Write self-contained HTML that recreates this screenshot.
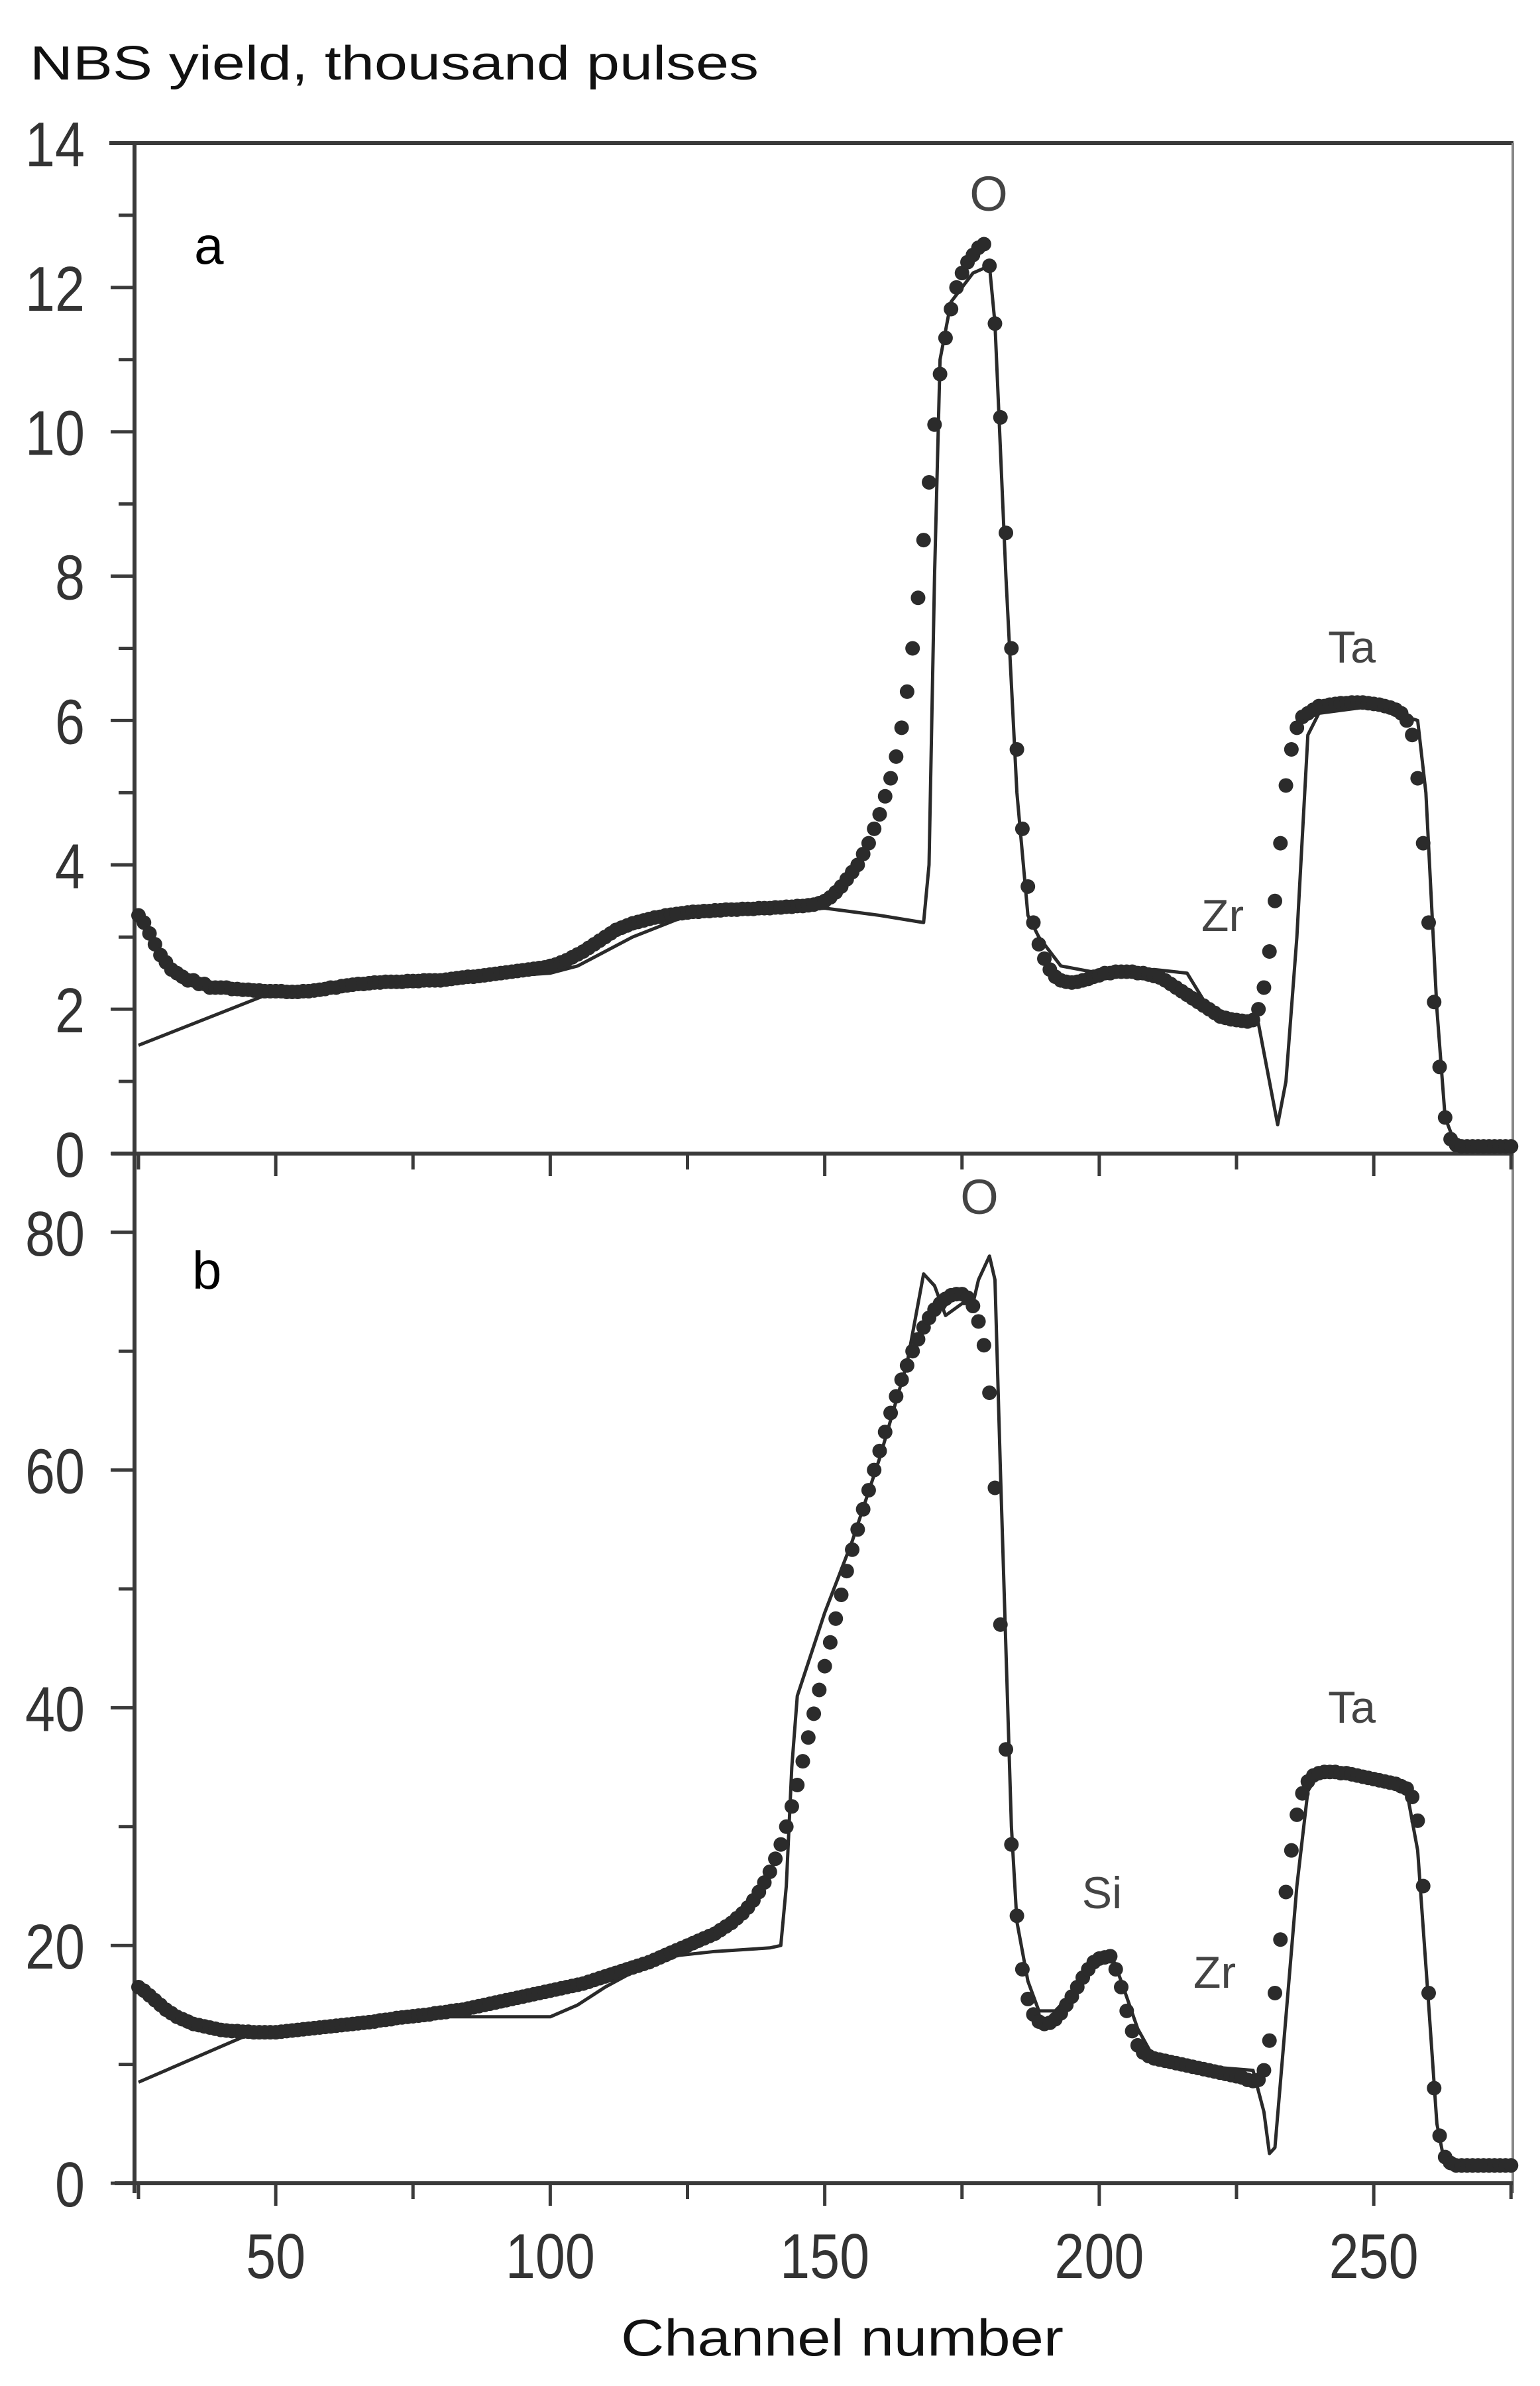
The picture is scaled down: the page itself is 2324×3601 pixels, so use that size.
<!DOCTYPE html>
<html><head><meta charset="utf-8"><style>
html,body{margin:0;padding:0;background:#fff;}
svg{display:block;}
text{font-family:"Liberation Sans",sans-serif;}
</style></head><body>
<svg id="chart" width="2324" height="3601" viewBox="0 0 2324 3601" xmlns="http://www.w3.org/2000/svg">
<text x="45" y="120" font-size="72" fill="#111" textLength="1100" lengthAdjust="spacingAndGlyphs">NBS yield, thousand pulses</text>
<text x="937" y="3555" font-size="78" fill="#111" textLength="668" lengthAdjust="spacingAndGlyphs">Channel number</text>
<g id="axes"></g>
<g id="marks"></g>
</svg>
<script>
// channels start at 25, step 1
const startChannel = 25;
const dotsA = [
3.3,3.2,3.05,2.9,2.75,2.65,2.55,2.5,2.45,2.4,
2.4,2.35,2.35,2.3,2.3,2.3,2.3,2.28,2.28,2.27,
2.27,2.26,2.26,2.25,2.25,2.25,2.25,2.24,2.24,2.24,
2.25,2.25,2.26,2.27,2.28,2.3,2.3,2.32,2.33,2.34,
2.35,2.35,2.36,2.37,2.37,2.38,2.38,2.38,2.38,2.39,
2.39,2.39,2.4,2.4,2.4,2.4,2.41,2.42,2.43,2.44,
2.45,2.45,2.46,2.47,2.48,2.49,2.5,2.51,2.52,2.53,
2.54,2.55,2.56,2.57,2.58,2.6,2.62,2.65,2.68,2.72,
2.76,2.8,2.85,2.9,2.95,3.0,3.05,3.1,3.13,3.16,
3.19,3.21,3.23,3.25,3.27,3.28,3.3,3.31,3.32,3.33,
3.34,3.35,3.35,3.36,3.36,3.37,3.37,3.38,3.38,3.38,
3.39,3.39,3.39,3.4,3.4,3.4,3.41,3.41,3.42,3.42,
3.43,3.43,3.44,3.45,3.47,3.5,3.55,3.62,3.7,3.8,
3.9,4.0,4.15,4.3,4.5,4.7,4.95,5.2,5.5,5.9,
6.4,7.0,7.7,8.5,9.3,10.1,10.8,11.3,11.7,12.0,
12.2,12.35,12.45,12.55,12.6,12.3,11.5,10.2,8.6,7.0,
5.6,4.5,3.7,3.2,2.9,2.7,2.55,2.45,2.4,2.38,
2.37,2.38,2.4,2.42,2.45,2.47,2.5,2.5,2.52,2.52,
2.52,2.52,2.5,2.5,2.48,2.46,2.44,2.4,2.35,2.3,
2.25,2.2,2.15,2.1,2.05,2.0,1.95,1.9,1.88,1.86,
1.85,1.84,1.83,1.85,2.0,2.3,2.8,3.5,4.3,5.1,
5.6,5.9,6.05,6.1,6.15,6.2,6.2,6.22,6.23,6.24,
6.24,6.25,6.25,6.25,6.24,6.23,6.22,6.2,6.18,6.15,
6.1,6.0,5.8,5.2,4.3,3.2,2.1,1.2,0.5,0.2,
0.12,0.1,0.1,0.1,0.1,0.1,0.1,0.1,0.1,0.1,0.1];
const lineAChannels = [25,50,60,80,100,105,115,125,140,150,160,168,169,170,171,173,177,180,181,183,185,187,189,193,200,210,216,220,226,229,231,232.5,234,236,238,240,250,258,259.5,261.5,263,265,275];
const lineAValues   = [1.5,2.25,2.3,2.4,2.5,2.6,3.0,3.3,3.35,3.4,3.3,3.2,4,8,11,11.8,12.2,12.3,11.5,8,5,3.3,3.0,2.6,2.5,2.55,2.5,2.0,1.9,1.8,1.0,0.4,1.0,3,5.8,6.1,6.2,6.0,5,2,0.5,0.1,0.1];
const dotsB = [
16.5,16.2,15.8,15.4,15.0,14.6,14.3,14.0,13.8,13.6,
13.4,13.3,13.2,13.1,13.0,12.9,12.85,12.8,12.8,12.75,
12.75,12.7,12.7,12.7,12.7,12.7,12.75,12.8,12.85,12.9,
12.95,13.0,13.05,13.1,13.15,13.2,13.25,13.3,13.35,13.4,
13.45,13.5,13.55,13.6,13.7,13.75,13.8,13.9,13.95,14.0,
14.05,14.1,14.15,14.2,14.3,14.35,14.4,14.5,14.55,14.6,
14.7,14.8,14.9,15.0,15.1,15.2,15.3,15.4,15.5,15.6,
15.7,15.8,15.9,16.0,16.1,16.2,16.3,16.4,16.5,16.6,
16.7,16.8,16.95,17.1,17.25,17.4,17.55,17.7,17.85,18.0,
18.15,18.3,18.45,18.6,18.8,19.0,19.2,19.4,19.6,19.8,
20.0,20.2,20.4,20.6,20.8,21.0,21.3,21.6,21.9,22.3,
22.7,23.2,23.8,24.5,25.3,26.2,27.3,28.5,30.0,31.7,
33.5,35.5,37.5,39.5,41.5,43.5,45.5,47.5,49.5,51.5,
53.3,55.0,56.7,58.3,60.0,61.6,63.2,64.8,66.2,67.6,
68.8,70.0,71.0,72.0,72.8,73.5,74.0,74.4,74.7,74.8,
74.8,74.5,73.8,72.5,70.5,66.5,58.5,47.0,36.5,28.5,
22.5,18.0,15.5,14.2,13.6,13.4,13.5,13.8,14.3,15.0,
15.7,16.5,17.3,18.0,18.6,18.9,19.0,19.1,18.0,16.5,
14.5,12.8,11.6,11.0,10.7,10.5,10.4,10.3,10.2,10.1,
10.0,9.9,9.8,9.7,9.6,9.5,9.4,9.3,9.2,9.1,
9.0,8.9,8.7,8.6,8.7,9.5,12.0,16.0,20.5,24.5,
28.0,31.0,32.8,33.8,34.3,34.5,34.6,34.6,34.6,34.5,
34.5,34.4,34.3,34.2,34.1,34.0,33.9,33.8,33.7,33.6,
33.4,33.2,32.5,30.5,25.0,16.0,8.0,4.0,2.2,1.7,
1.5,1.5,1.5,1.5,1.5,1.5,1.5,1.5,1.5,1.5,1.5];
const lineBChannels = [25,45,60,80,90,100,105,110,120,130,140,142,143,144,145,150,155,160,165,168,170,172,175,177,178,180,181,182,183,184,185,187,189,192,195,199,202,204,207,210,220,228,230,231,232,234,236,238,240,250,256,258,260,261.5,263,275];
const lineBValues   = [8.5,12.5,13.2,14,14,14,15,16.5,19,19.5,19.8,20,25,35,41,48,54,61,69,76.5,75.5,73,74,74,76,78,76,60,45,30,22,17,14.5,14.5,16,18.5,19.5,17,13,10.5,9.8,9.5,6,2.5,3,14,25,33,34.5,34,33,28,15,5,1.5,1.5];
const yTicksA = [0,2,4,6,8,10,12,14];
const yTicksB = [0,20,40,60,80];
const xTickLabels = [50,100,150,200,250];

const NS = "http://www.w3.org/2000/svg";
const axesG = document.getElementById('axes');
const marksG = document.getElementById('marks');
function X(ch){ return 209 + (ch - 25) * 8.285; }
function YA(v){ return 1741 - v * 108.93; }
function YB(v){ return 3295 - v * 17.94; }
function mk(tag, attrs, parent){
  const e = document.createElementNS(NS, tag);
  for (const k in attrs) e.setAttribute(k, attrs[k]);
  parent.appendChild(e);
  return e;
}
const AX = '#3a3a3a';
let el;
el = mk('line',{x1:203,y1:216,x2:203,y2:3310,stroke:AX,'stroke-width':6},axesG);


el = mk('line',{x1:165,y1:216,x2:2284,y2:216,stroke:AX,'stroke-width':6},axesG);


el = mk('line',{x1:2283,y1:216,x2:2283,y2:3310,stroke:'#888','stroke-width':4},axesG);


el = mk('line',{x1:168,y1:1741,x2:2283,y2:1741,stroke:AX,'stroke-width':6},axesG);


el = mk('line',{x1:173,y1:3295,x2:2283,y2:3295,stroke:AX,'stroke-width':6},axesG);


for (let ch = 25; ch <= 275; ch += 25) {
  const len = (ch % 50 === 0) ? 34 : 24;
  el = mk('line',{x1:X(ch),y1:1741,x2:X(ch),y2:1741+len,stroke:AX,'stroke-width':5},axesG);
  
  
  el = mk('line',{x1:X(ch),y1:3295,x2:X(ch),y2:3295+len,stroke:AX,'stroke-width':5},axesG);
  
  
}
xTickLabels.forEach(v => {
  const t = mk('text',{x:X(v),y:3438,'font-size':96,fill:'#333','text-anchor':'middle',textLength:String(v).length*45,lengthAdjust:'spacingAndGlyphs'},axesG);
  t.textContent = v;
  
  
});
for (let v = 0; v <= 14; v += 1) {
  const len = (v % 2 === 0) ? 36 : 24;
  el = mk('line',{x1:203-len,y1:YA(v),x2:203,y2:YA(v),stroke:AX,'stroke-width':5},axesG);
  
  
}
yTicksA.forEach(v => {
  const t = mk('text',{x:128,y:YA(v)+35,'font-size':96,fill:'#333','text-anchor':'end',textLength:String(v).length*45,lengthAdjust:'spacingAndGlyphs'},axesG);
  t.textContent = v;
  
  
});
for (let v = 0; v <= 80; v += 10) {
  const len = (v % 20 === 0) ? 36 : 24;
  el = mk('line',{x1:203-len,y1:YB(v),x2:203,y2:YB(v),stroke:AX,'stroke-width':5},axesG);
  
  
}
yTicksB.forEach(v => {
  const t = mk('text',{x:128,y:YB(v)+35,'font-size':96,fill:'#333','text-anchor':'end',textLength:String(v).length*45,lengthAdjust:'spacingAndGlyphs'},axesG);
  t.textContent = v;
  
  
});
function linePath(chs, vals, Y){
  return chs.map((c,i)=>(i?'L':'M')+X(c).toFixed(1)+' '+Y(vals[i]).toFixed(1)).join(' ');
}
el = mk('path',{d:linePath(lineAChannels,lineAValues,YA),fill:'none',stroke:'#2a2a2a','stroke-width':5,'stroke-linejoin':'round'},marksG);


el = mk('path',{d:linePath(lineBChannels,lineBValues,YB),fill:'none',stroke:'#2a2a2a','stroke-width':5,'stroke-linejoin':'round'},marksG);


dotsA.forEach((v,i) => {
  const c = mk('circle',{cx:X(startChannel+i),cy:YA(v),r:11,fill:'#2b2b2b'},marksG);
  
  
});
dotsB.forEach((v,i) => {
  const c = mk('circle',{cx:X(startChannel+i),cy:YB(v),r:11,fill:'#2b2b2b'},marksG);
  
  
});
const labels = [
  ['panel-a-label','a',293,398,80,'#000','start'],
  ['panel-b-label','b',290,1945,80,'#000','start'],
  ['panel-a-o-label','O',1492,318,74,'#444','middle'],
  ['panel-a-ta-label','Ta',2040,1000,68,'#444','middle'],
  ['panel-a-zr-label','Zr',1845,1405,68,'#444','middle'],
  ['panel-b-o-label','O',1478,1832,74,'#444','middle'],
  ['panel-b-ta-label','Ta',2040,2600,68,'#444','middle'],
  ['panel-b-si-label','Si',1663,2880,68,'#444','middle'],
  ['panel-b-zr-label','Zr',1833,3000,68,'#444','middle']
];
labels.forEach(L => {
  const t = mk('text',{x:L[2],y:L[3],'font-size':L[4],fill:L[5],'text-anchor':L[6]},axesG);
  t.textContent = L[1];
  
  
});
</script>
</body></html>
